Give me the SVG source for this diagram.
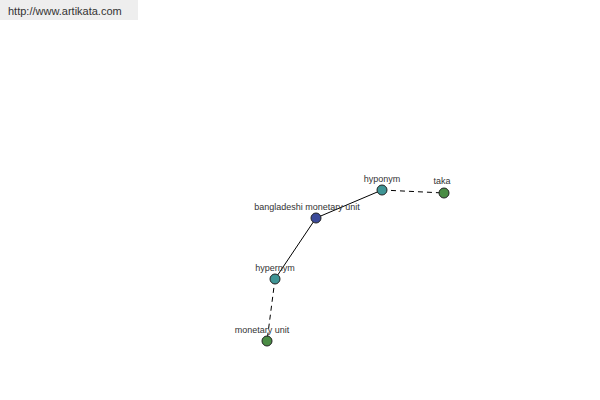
<svg xmlns="http://www.w3.org/2000/svg" width="600" height="400" viewBox="0 0 600 400">
<style>
text{font-family:"Liberation Sans",Arial,sans-serif;font-size:9px;fill:#333;text-anchor:middle}
.n{stroke:#222;stroke-width:1}
.c{stroke:#000;stroke-width:1;fill:none}
.d{stroke-dasharray:5,4}
</style>
<rect x="0" y="0" width="138" height="20" fill="#eeeeee"/>
<text x="8" y="15" style="text-anchor:start;font-size:11px;fill:#333">http://www.artikata.com</text>
<g id="connectors">
<line class="c" x1="316" y1="218" x2="382" y2="190"/>
<line class="c" x1="316" y1="218" x2="275" y2="279"/>
<line class="c d" x1="382" y1="190" x2="444" y2="193"/>
<line class="c d" x1="275" y1="279" x2="267" y2="341"/>
</g>
<g id="bangladeshi"><circle class="n" cx="316" cy="218" r="5" fill="#3b4a9a"/><text x="307" y="210">bangladeshi monetary unit</text></g>
<g id="hyponym"><circle class="n" cx="382" cy="190" r="5" fill="#3f9595"/><text x="382" y="182">hyponym</text></g>
<g id="taka"><circle class="n" cx="444" cy="193" r="5" fill="#4a8c44"/><text x="442" y="184">taka</text></g>
<g id="hypernym"><circle class="n" cx="275" cy="279" r="5" fill="#3f9595"/><text x="275" y="271">hypernym</text></g>
<g id="monetary"><circle class="n" cx="267" cy="341" r="5" fill="#4a8c44"/><text x="262" y="333">monetary unit</text></g>
</svg>
